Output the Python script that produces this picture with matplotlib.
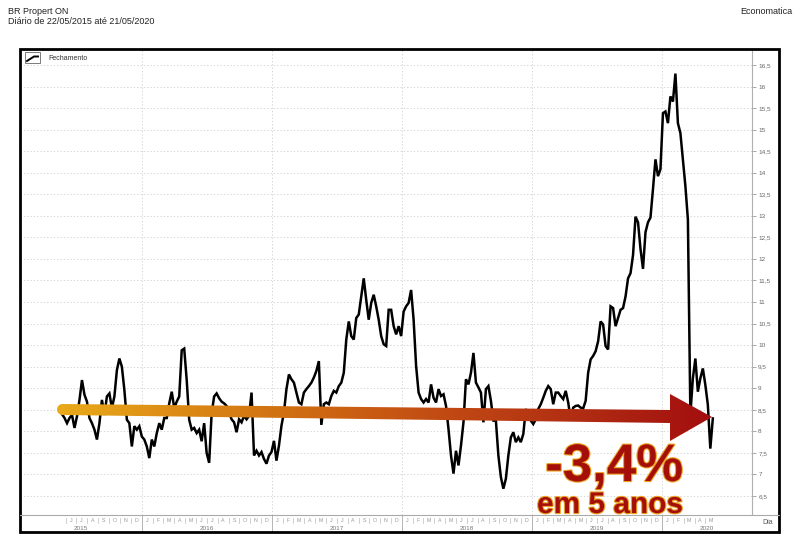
import numpy as np
import pandas as pd
import matplotlib
matplotlib.use("Agg")
import matplotlib.pyplot as plt
from matplotlib.patches import Polygon, Rectangle
from matplotlib.colors import LinearSegmentedColormap
import matplotlib.patheffects as pe

plt.rcParams['font.family'] = ['Liberation Sans', 'DejaVu Sans']

# ---------------- data (weekly closes) ----------------
start_date = "2015-05-22"
close_2015 = [8.40, 8.31, 8.19, 8.31, 8.38, 8.08, 8.35, 8.73, 9.19, 8.85,
              8.69, 8.31, 8.19, 8.04, 7.81, 8.19, 8.73, 8.38, 8.81, 8.88,
              8.54, 8.81, 9.42, 9.69, 9.50, 8.96, 8.27, 8.19, 7.65, 8.12,
              8.04, 8.12]
close_2016 = [7.88, 7.81, 7.65, 7.38, 7.81, 7.65, 7.96, 8.19,
              8.04, 8.31, 8.31, 8.65, 8.92, 8.54, 8.69, 8.81, 9.88, 9.92,
              9.19, 8.27, 8.04, 8.08, 7.96, 8.04, 7.77, 8.19, 7.50, 7.27,
              8.42, 8.81, 8.88, 8.77, 8.69, 8.65, 8.59, 8.44, 8.28, 8.21,
              7.98, 8.28, 8.21, 8.36, 8.28, 8.36, 8.90, 7.44, 7.55, 7.44,
              7.52, 7.36, 7.25, 7.44, 7.52]
close_2017 = [7.78, 7.32, 7.67, 8.13, 8.44,
              8.98, 9.32, 9.21, 9.13, 8.90, 8.67, 8.63, 8.90, 8.98, 9.05,
              9.13, 9.25, 9.40, 9.63, 8.15, 8.63, 8.67, 8.63, 8.82, 8.94,
              8.90, 9.05, 9.13, 9.36, 10.13, 10.55, 10.21, 10.13, 10.63, 10.71,
              11.13, 11.55, 11.05, 10.59, 10.98, 11.17, 10.90, 10.59, 10.21, 10.02,
              9.98, 10.82, 10.82, 10.44, 10.25, 10.44, 10.21]
close_2018 = [10.78, 10.90, 10.98,
              11.28, 10.59, 9.52, 8.90, 8.75, 8.67, 8.75, 8.67, 9.09, 8.78,
              8.67, 8.98, 8.82, 8.86, 8.59, 8.05, 7.44, 7.02, 7.55, 7.21,
              7.67, 8.21, 9.21, 9.09, 9.36, 9.82, 9.13, 9.02, 8.90, 8.21,
              8.98, 9.05, 8.71, 8.25, 8.25, 7.44, 6.94, 6.67, 6.90, 7.44,
              7.86, 7.98, 7.75, 7.86, 7.75, 7.94, 8.52, 8.36, 8.25]
close_2019 = [8.17,
              8.28, 8.52, 8.63, 8.78, 8.94, 9.05, 8.98, 8.63, 8.90, 8.90,
              8.82, 8.75, 8.94, 8.67, 8.28, 8.55, 8.59, 8.60, 8.55, 8.53,
              8.71, 9.36, 9.67, 9.75, 9.86, 10.09, 10.55, 10.48, 9.98, 9.90,
              10.90, 10.86, 10.44, 10.63, 10.82, 10.86, 11.13, 11.55, 11.67, 12.09,
              12.98, 12.85, 12.23, 11.77, 12.62, 12.85, 12.96, 13.62, 14.31, 13.92,
              14.08]
close_2020 = [15.38, 15.42, 15.15, 15.77, 15.65, 16.30, 15.15, 14.92, 14.31,
              13.69, 12.92, 8.40, 9.23, 9.69, 8.92, 9.23, 9.46, 9.08, 8.62,
              7.60, 8.30]

yticks = [6.5, 7, 7.5, 8, 8.5, 9, 9.5, 10, 10.5, 11, 11.5, 12, 12.5, 13,
          13.5, 14, 14.5, 15, 15.5, 16, 16.5]
month_letters = "JFMAMJJASOND"
years = [2015, 2016, 2017, 2018, 2019, 2020]
title1 = "BR Propert ON"
title2 = "Diário de 22/05/2015 até 21/05/2020"
source = "Economatica"
legend_label = "Fechamento"
change_text = "-3,4%"
period_text = "em 5 anos"

close = close_2015 + close_2016 + close_2017 + close_2018 + close_2019 + close_2020
dates = pd.date_range(start_date, periods=len(close), freq="7D")

# ---------------- figure ----------------
W, H = 800, 547
fig = plt.figure(figsize=(W / 100, H / 100), dpi=100)
fig.patch.set_facecolor("white")

def fx(px):
    return px / W

def fy(py):
    return 1 - py / H

ax_l, ax_r, ax_t, ax_b = 20, 752, 49, 515
ax = fig.add_axes([fx(ax_l), fy(ax_b), fx(ax_r) - fx(ax_l), fy(ax_t) - fy(ax_b)])
ax.set_facecolor("white")

x0 = pd.Timestamp("2015-01-24")
x1 = pd.Timestamp("2020-09-09")
ax.set_xlim(x0, x1)
ax.set_ylim(6.06, 16.87)

ax.plot(dates, close, color="black", lw=1.8, solid_joinstyle="miter", zorder=3)

ax.set_yticks(yticks)
ax.set_yticklabels([f"{v:g}".replace(".", ",") for v in yticks])
ax.yaxis.tick_right()
ax.tick_params(axis="y", direction="out", length=3, width=0.6, color="#9a9a9a",
               labelsize=4.6, labelcolor="#666666", pad=1.5)
ax.set_xticks([])
for s in ["left", "top", "bottom"]:
    ax.spines[s].set_visible(False)
ax.spines["right"].set_color("#b0b0b0")
ax.spines["right"].set_linewidth(0.8)
ax.grid(axis="y", ls=(0, (1.5, 2.5)), color="#cccccc", lw=0.6, zorder=0)
for yr in years[1:]:
    ax.axvline(pd.Timestamp(f"{yr}-01-01"), ls=(0, (1.5, 2.5)), color="#cccccc",
               lw=0.6, zorder=0)

# bottom date strip
xt = ax.get_xaxis_transform()

def ya(py):
    return (ax_b - py) / (ax_b - ax_t)

months = pd.date_range("2015-06-01", "2020-05-01", freq="MS")
for m in months:
    ax.text(m + pd.Timedelta(days=15), ya(520.5), month_letters[m.month - 1],
            fontsize=3.8, color="#9a9a9a", ha="center", va="center",
            transform=xt, clip_on=False)
    if m.month != 1:
        ax.plot([m, m], [ya(517.5), ya(523)], color="#bbbbbb", lw=0.5,
                transform=xt, clip_on=False)
for yr in years[1:]:
    d = pd.Timestamp(f"{yr}-01-01")
    ax.plot([d, d], [0, ya(532)], color="#aaaaaa", lw=0.6, transform=xt, clip_on=False)
for yr in years:
    s = max(pd.Timestamp(f"{yr}-01-01"), x0)
    e = min(pd.Timestamp(f"{yr}-12-31"), x1)
    ax.text(s + (e - s) / 2, ya(528), str(yr), fontsize=4.6, color="#777777",
            ha="center", va="center", transform=xt, clip_on=False)

# ---------------- overlay (frame, titles, arrow, labels) ----------------
ov = fig.add_axes([0, 0, 1, 1], zorder=10)
ov.patch.set_alpha(0)
ov.axis("off")

ov.add_patch(Rectangle((20, 49), 759, 483, fill=False, ec="black", lw=2))
ov.plot([20, 779], [515, 515], color="#aaaaaa", lw=0.8)
ov.text(768, 523, "Dia", fontsize=5, color="#555555", ha="center", va="center")

ov.text(8, 12, title1, fontsize=6.5, color="#222222", ha="left", va="center")
ov.text(8, 21.5, title2, fontsize=6.5, color="#222222", ha="left", va="center")
ov.text(792, 12, source, fontsize=6.5, color="#222222", ha="right", va="center")

ov.add_patch(Rectangle((25, 52), 15, 11, fill=False, ec="#666666", lw=0.6))
ov.plot([27, 34, 38], [61, 56.5, 56.5], color="black", lw=1.4)
ov.text(48, 58, legend_label, fontsize=5, color="#333333", ha="left", va="center")

# gradient arrow
cx, cy, r = 62.5, 409.5, 5.5
pts = [(62.5, 404), (670, 410), (670, 394), (712, 417), (670, 441), (670, 423), (62.5, 415)]
for th in np.linspace(270, 90, 19)[1:-1]:
    t = np.deg2rad(th)
    pts.append((cx + r * np.cos(t), cy - r * np.sin(t)))
poly = Polygon(pts, closed=True, fc="none", ec="none")
ov.add_patch(poly)
cmap = LinearSegmentedColormap.from_list(
    "arr", [(0, "#E9AA1A"), (0.37, "#CF6C12"), (0.58, "#C24C14"),
            (0.83, "#AE2812"), (1, "#A30E0E")])
grad = np.linspace(0, 1, 512)[None, :]
im = ov.imshow(grad, cmap=cmap, extent=(57, 712, 443, 392), aspect="auto",
               interpolation="bilinear")
im.set_clip_path(poly)

ov.set_xlim(0, W)
ov.set_ylim(H, 0)

stroke = [pe.withStroke(linewidth=1.6, foreground="#EBA325")]
ov.text(614, 481, change_text, fontsize=38, fontweight="bold", color="#A50F0A",
        ha="center", va="baseline", path_effects=stroke)
ov.text(610, 513, period_text, fontsize=21.5, fontweight="bold", color="#A50F0A",
        ha="center", va="baseline", path_effects=stroke)

fig.savefig("out.png", dpi=100, facecolor="white")
